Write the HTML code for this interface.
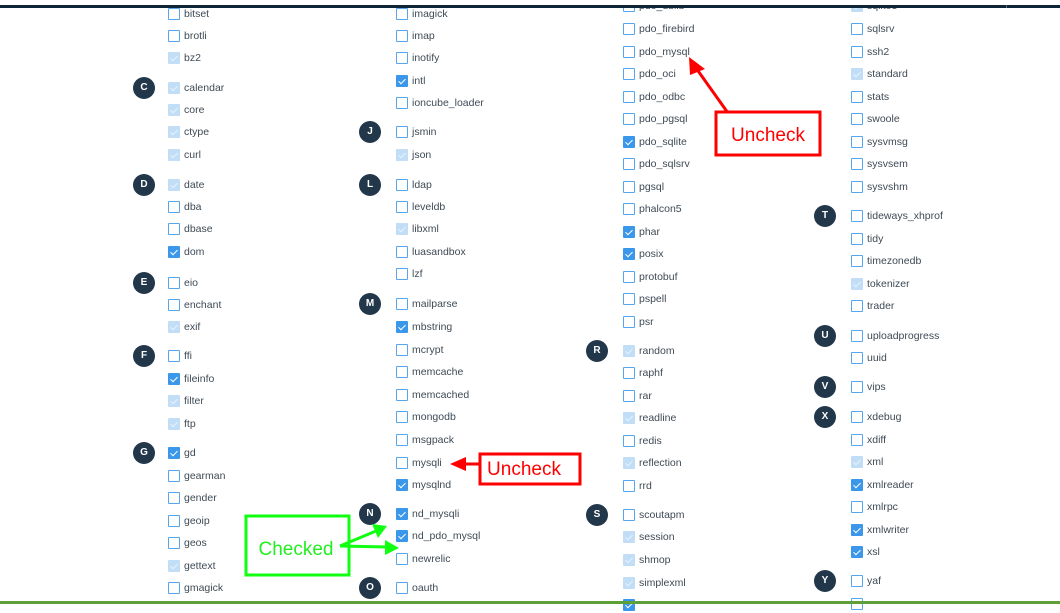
<!DOCTYPE html>
<html><head><meta charset="utf-8"><style>
*{margin:0;padding:0;box-sizing:border-box}
body{width:1060px;height:604px;position:relative;overflow:hidden;background:#fff;font-family:"Liberation Sans",sans-serif}
.i{position:absolute;height:14px;font-size:10.5px;color:#3e4a55;line-height:12px;white-space:nowrap;padding-left:16px}
.i b{position:absolute;left:0;top:0;width:12px;height:12px;border:1.3px solid #56a6ee;border-radius:1px;background:#fff}
.i.c b{background:#3b97ea;border-color:#3b97ea}
.i.d b{background:#c2def7;border-color:#c2def7}
.i.c b:after,.i.d b:after{content:"";position:absolute;left:3px;top:1px;width:3px;height:6px;border:solid #fff;border-width:0 1.5px 1.5px 0;transform:rotate(45deg)}
.i.d b:after{border-color:#e6f2fc}
.k{position:absolute;width:22px;height:22px;border-radius:50%;background:#23374b;color:#fff;font-size:10px;font-weight:bold;text-align:center;line-height:22px}
.top{position:absolute;z-index:5}
</style></head><body>
<div class="top" style="left:0;top:0;width:1060px;height:5px;background:#fff"></div>
<div class="top" style="left:0;top:5px;width:1060px;height:3px;background:#0e2537"></div>
<div class="top" style="left:1006px;top:5px;width:1px;height:3px;background:#667"></div>
<div class="top" style="left:0;top:601px;width:1060px;height:3px;background:#5f9f3a"></div>

<!-- column 1 -->
<div class="k" style="left:133px;top:77px">C</div>
<div class="k" style="left:133px;top:174px">D</div>
<div class="k" style="left:133px;top:272px">E</div>
<div class="k" style="left:133px;top:345px">F</div>
<div class="k" style="left:133px;top:442px">G</div>
<div class="i" style="left:168px;top:8px"><b></b>bitset</div>
<div class="i" style="left:168px;top:30px"><b></b>brotli</div>
<div class="i d" style="left:168px;top:52px"><b></b>bz2</div>
<div class="i d" style="left:168px;top:82px"><b></b>calendar</div>
<div class="i d" style="left:168px;top:104px"><b></b>core</div>
<div class="i d" style="left:168px;top:126px"><b></b>ctype</div>
<div class="i d" style="left:168px;top:149px"><b></b>curl</div>
<div class="i d" style="left:168px;top:179px"><b></b>date</div>
<div class="i" style="left:168px;top:201px"><b></b>dba</div>
<div class="i" style="left:168px;top:223px"><b></b>dbase</div>
<div class="i c" style="left:168px;top:246px"><b></b>dom</div>
<div class="i" style="left:168px;top:277px"><b></b>eio</div>
<div class="i" style="left:168px;top:299px"><b></b>enchant</div>
<div class="i d" style="left:168px;top:321px"><b></b>exif</div>
<div class="i" style="left:168px;top:350px"><b></b>ffi</div>
<div class="i c" style="left:168px;top:373px"><b></b>fileinfo</div>
<div class="i d" style="left:168px;top:395px"><b></b>filter</div>
<div class="i d" style="left:168px;top:418px"><b></b>ftp</div>
<div class="i c" style="left:168px;top:447px"><b></b>gd</div>
<div class="i" style="left:168px;top:470px"><b></b>gearman</div>
<div class="i" style="left:168px;top:492px"><b></b>gender</div>
<div class="i" style="left:168px;top:515px"><b></b>geoip</div>
<div class="i" style="left:168px;top:537px"><b></b>geos</div>
<div class="i d" style="left:168px;top:560px"><b></b>gettext</div>
<div class="i" style="left:168px;top:582px"><b></b>gmagick</div>

<!-- column 2 -->
<div class="k" style="left:359px;top:121px">J</div>
<div class="k" style="left:359px;top:174px">L</div>
<div class="k" style="left:359px;top:293px">M</div>
<div class="k" style="left:359px;top:503px">N</div>
<div class="k" style="left:359px;top:577px">O</div>
<div class="i" style="left:396px;top:8px"><b></b>imagick</div>
<div class="i" style="left:396px;top:30px"><b></b>imap</div>
<div class="i" style="left:396px;top:52px"><b></b>inotify</div>
<div class="i c" style="left:396px;top:75px"><b></b>intl</div>
<div class="i" style="left:396px;top:97px"><b></b>ioncube_loader</div>
<div class="i" style="left:396px;top:126px"><b></b>jsmin</div>
<div class="i d" style="left:396px;top:149px"><b></b>json</div>
<div class="i" style="left:396px;top:179px"><b></b>ldap</div>
<div class="i" style="left:396px;top:201px"><b></b>leveldb</div>
<div class="i d" style="left:396px;top:223px"><b></b>libxml</div>
<div class="i" style="left:396px;top:246px"><b></b>luasandbox</div>
<div class="i" style="left:396px;top:268px"><b></b>lzf</div>
<div class="i" style="left:396px;top:298px"><b></b>mailparse</div>
<div class="i c" style="left:396px;top:321px"><b></b>mbstring</div>
<div class="i" style="left:396px;top:344px"><b></b>mcrypt</div>
<div class="i" style="left:396px;top:366px"><b></b>memcache</div>
<div class="i" style="left:396px;top:389px"><b></b>memcached</div>
<div class="i" style="left:396px;top:411px"><b></b>mongodb</div>
<div class="i" style="left:396px;top:434px"><b></b>msgpack</div>
<div class="i" style="left:396px;top:457px"><b></b>mysqli</div>
<div class="i c" style="left:396px;top:479px"><b></b>mysqlnd</div>
<div class="i c" style="left:396px;top:508px"><b></b>nd_mysqli</div>
<div class="i c" style="left:396px;top:530px"><b></b>nd_pdo_mysql</div>
<div class="i" style="left:396px;top:553px"><b></b>newrelic</div>
<div class="i" style="left:396px;top:582px"><b></b>oauth</div>

<!-- column 3 -->
<div class="k" style="left:586px;top:340px">R</div>
<div class="k" style="left:586px;top:504px">S</div>
<div class="i" style="left:623px;top:0px"><b></b>pdo_dblib</div>
<div class="i" style="left:623px;top:23px"><b></b>pdo_firebird</div>
<div class="i" style="left:623px;top:46px"><b></b>pdo_mysql</div>
<div class="i" style="left:623px;top:68px"><b></b>pdo_oci</div>
<div class="i" style="left:623px;top:91px"><b></b>pdo_odbc</div>
<div class="i" style="left:623px;top:113px"><b></b>pdo_pgsql</div>
<div class="i c" style="left:623px;top:136px"><b></b>pdo_sqlite</div>
<div class="i" style="left:623px;top:158px"><b></b>pdo_sqlsrv</div>
<div class="i" style="left:623px;top:181px"><b></b>pgsql</div>
<div class="i" style="left:623px;top:203px"><b></b>phalcon5</div>
<div class="i c" style="left:623px;top:226px"><b></b>phar</div>
<div class="i c" style="left:623px;top:248px"><b></b>posix</div>
<div class="i" style="left:623px;top:271px"><b></b>protobuf</div>
<div class="i" style="left:623px;top:293px"><b></b>pspell</div>
<div class="i" style="left:623px;top:316px"><b></b>psr</div>
<div class="i d" style="left:623px;top:345px"><b></b>random</div>
<div class="i" style="left:623px;top:367px"><b></b>raphf</div>
<div class="i" style="left:623px;top:390px"><b></b>rar</div>
<div class="i d" style="left:623px;top:412px"><b></b>readline</div>
<div class="i" style="left:623px;top:435px"><b></b>redis</div>
<div class="i d" style="left:623px;top:457px"><b></b>reflection</div>
<div class="i" style="left:623px;top:480px"><b></b>rrd</div>
<div class="i" style="left:623px;top:509px"><b></b>scoutapm</div>
<div class="i d" style="left:623px;top:531px"><b></b>session</div>
<div class="i d" style="left:623px;top:554px"><b></b>shmop</div>
<div class="i d" style="left:623px;top:577px"><b></b>simplexml</div>
<div class="i c" style="left:623px;top:599px"><b></b></div>

<!-- column 4 -->
<div class="k" style="left:814px;top:205px">T</div>
<div class="k" style="left:814px;top:325px">U</div>
<div class="k" style="left:814px;top:376px">V</div>
<div class="k" style="left:814px;top:406px">X</div>
<div class="k" style="left:814px;top:570px">Y</div>
<div class="i d" style="left:851px;top:0px"><b></b>sqlite3</div>
<div class="i" style="left:851px;top:23px"><b></b>sqlsrv</div>
<div class="i" style="left:851px;top:46px"><b></b>ssh2</div>
<div class="i d" style="left:851px;top:68px"><b></b>standard</div>
<div class="i" style="left:851px;top:91px"><b></b>stats</div>
<div class="i" style="left:851px;top:113px"><b></b>swoole</div>
<div class="i" style="left:851px;top:136px"><b></b>sysvmsg</div>
<div class="i" style="left:851px;top:158px"><b></b>sysvsem</div>
<div class="i" style="left:851px;top:181px"><b></b>sysvshm</div>
<div class="i" style="left:851px;top:210px"><b></b>tideways_xhprof</div>
<div class="i" style="left:851px;top:233px"><b></b>tidy</div>
<div class="i" style="left:851px;top:255px"><b></b>timezonedb</div>
<div class="i d" style="left:851px;top:278px"><b></b>tokenizer</div>
<div class="i" style="left:851px;top:300px"><b></b>trader</div>
<div class="i" style="left:851px;top:330px"><b></b>uploadprogress</div>
<div class="i" style="left:851px;top:352px"><b></b>uuid</div>
<div class="i" style="left:851px;top:381px"><b></b>vips</div>
<div class="i" style="left:851px;top:411px"><b></b>xdebug</div>
<div class="i" style="left:851px;top:434px"><b></b>xdiff</div>
<div class="i d" style="left:851px;top:456px"><b></b>xml</div>
<div class="i c" style="left:851px;top:479px"><b></b>xmlreader</div>
<div class="i" style="left:851px;top:501px"><b></b>xmlrpc</div>
<div class="i c" style="left:851px;top:524px"><b></b>xmlwriter</div>
<div class="i c" style="left:851px;top:546px"><b></b>xsl</div>
<div class="i" style="left:851px;top:575px"><b></b>yaf</div>
<div class="i" style="left:851px;top:598px"><b></b></div>

<!-- annotations -->
<svg style="position:absolute;left:0;top:0" width="1060" height="604">
<line x1="728" y1="113" x2="696" y2="68" stroke="#f00" stroke-width="3"/>
<polygon points="689,57 705,69 690,75" fill="#f00"/>
<rect x="716" y="112" width="104" height="43" fill="#fff" stroke="#f00" stroke-width="3"/>
<text x="768" y="141" font-family="Liberation Sans,sans-serif" font-size="19" fill="#f00" text-anchor="middle">Uncheck</text>
<line x1="480" y1="464" x2="462" y2="464" stroke="#f00" stroke-width="3"/>
<polygon points="450,464 466,457 466,471" fill="#f00"/>
<rect x="480" y="454" width="100" height="30" fill="#fff" stroke="#f00" stroke-width="3"/>
<text x="524" y="475" font-family="Liberation Sans,sans-serif" font-size="19" fill="#f00" text-anchor="middle">Uncheck</text>
<rect x="246" y="516" width="103" height="59" fill="#fff" stroke="#1f1" stroke-width="3"/>
<text x="296" y="555" font-family="Liberation Sans,sans-serif" font-size="19" fill="#2e2" text-anchor="middle">Checked</text>
<line x1="340" y1="546" x2="376" y2="531" stroke="#1f1" stroke-width="3"/>
<polygon points="387,526 372,524 378,538" fill="#1f1"/>
<line x1="340" y1="546" x2="386" y2="547" stroke="#1f1" stroke-width="3"/>
<polygon points="399,548 385,540 385,555" fill="#1f1"/>
</svg>
</body></html>
